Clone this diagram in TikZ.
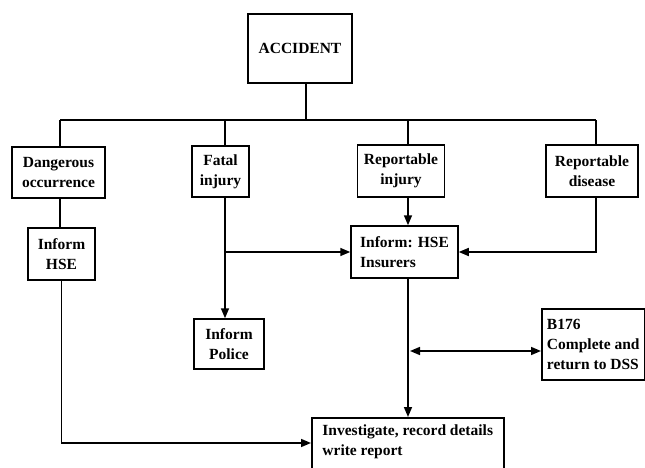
\documentclass[tikz,border=0pt]{standalone}
\usepackage{fontspec}
\setmainfont{Liberation Serif}
\usetikzlibrary{arrows.meta}
\begin{document}
\begin{tikzpicture}[x=1pt,y=-1pt,
  box/.style={draw, line width=1.5pt, inner xsep=3pt, inner ysep=0pt, align=center,
              font=\fontsize{15.5}{20}\selectfont\bfseries},
  link/.style={line width=1.6pt},
  tip/.tip={Triangle[length=10pt,width=8pt]},
  arr/.style={link, -tip},
]
\useasboundingbox (0,0) rectangle (645,467);
\clip (0,0) rectangle (645,467);

% boxes
\node[box, minimum width=104pt, minimum height=69pt] (acc) at (300,48.5) {ACCIDENT};
\node[box, minimum width=93pt, minimum height=51pt] (dang) at (58.5,172.5) {Dangerous\\occurrence};
\node[box, minimum width=57pt, minimum height=51pt] (fatal) at (220.5,171.5) {Fatal\\injury};
\node[box, minimum width=87pt, minimum height=52pt] (inj) at (401,171) {Reportable\\injury};
\node[box, minimum width=92pt, minimum height=52pt] (dis) at (592,171) {Reportable\\disease};
\node[box, minimum width=67pt, minimum height=52pt] (infhse) at (61.5,254) {Inform\\HSE};
\node[box, minimum width=107pt, minimum height=52pt, align=left] (ins) at (404.5,252) {Inform: HSE\\Insurers};
\node[box, minimum width=70pt, minimum height=50pt] (police) at (229,344) {Inform\\Police};
\node[box, anchor=west, minimum height=71pt, minimum width=103pt, inner xsep=4pt, align=left] (form) at (541,344.5)
  {B176\\Complete and\\return to DSS};
\node[box, anchor=north west, minimum width=192pt, inner ysep=7pt, align=left] (inv) at (311,417)
  {Investigate, record details\\write report\\\strut};

% junction points
\coordinate (busL) at (60,120);
\coordinate (busR) at (596,120);
\coordinate (b2) at (225,120);
\coordinate (b3) at (408,120);
\coordinate (fj) at (225,252);
\coordinate (toinv) at (0,443);
\coordinate (dj) at (410,351);

% tree from the accident box
\draw[link] ([xshift=6pt]acc.south) -- ([xshift=6pt]acc.south |- busL);
\draw[link] (busL) -- (busR);
\draw[link] (busL) -- (busL |- dang.north);
\draw[link] (b2) -- (b2 |- fatal.north);
\draw[link] (b3) -- (b3 |- inj.north);
\draw[link] (busR) -- (busR |- dis.north);

% dangerous occurrence path
\draw[link] (busL |- dang.south) -- (busL |- infhse.north);
\draw[arr] (infhse.south) -- (infhse.south |- toinv) -- (inv.west |- toinv);

% fatal injury path
\draw[arr] (b2 |- fatal.south) -- (b2 |- police.north);
\draw[arr] (fj) -- (ins.west |- fj);

% reportable injury and disease
\draw[arr] (b3 |- inj.south) -- (b3 |- ins.north);
\draw[arr] (busR |- dis.south) -- (busR |- fj) -- (ins.east |- fj);

% to investigation, with the B176 form
\draw[arr] (b3 |- ins.south) -- (b3 |- inv.north);
\draw[link, tip-tip] (dj) -- (form.west |- dj);
\end{tikzpicture}
\end{document}
